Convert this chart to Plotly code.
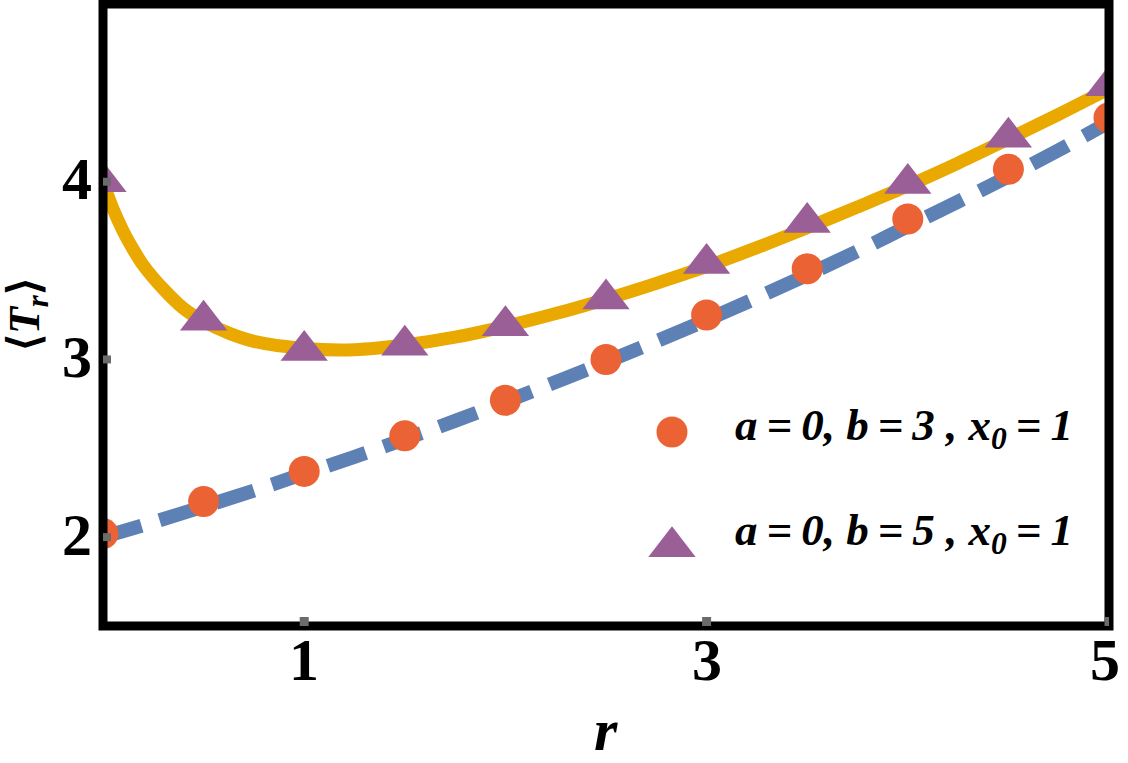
import plotly.graph_objects as go

# ---- data ----
r_points = [0, 0.5, 1, 1.5, 2, 2.5, 3, 3.5, 4, 4.5, 5]
t_b3_points = [2.02, 2.20, 2.37, 2.57, 2.77, 3.00, 3.25, 3.51, 3.79, 4.07, 4.36]
t_b5_points = [4.00, 3.22, 3.05, 3.08, 3.19, 3.34, 3.54, 3.77, 3.99, 4.25, 4.54]

r_line_b3 = [0, 0.25, 0.5, 0.75, 1, 1.25, 1.5, 1.75, 2, 2.25, 2.5, 2.75, 3,
             3.25, 3.5, 3.75, 4, 4.25, 4.5, 4.75, 5]
t_line_b3 = [2.000, 2.084, 2.172, 2.262, 2.357, 2.452, 2.552, 2.654, 2.762, 2.873,
             2.985, 3.102, 3.222, 3.347, 3.476, 3.609, 3.749, 3.888, 4.030, 4.178, 4.335]

r_line_b5 = [0, 0.025, 0.05, 0.1, 0.15, 0.2, 0.3, 0.4, 0.5, 0.625, 0.75, 1,
             1.25, 1.5, 1.75, 2, 2.25, 2.5, 2.75, 3, 3.25, 3.5, 3.75, 4, 4.25,
             4.5, 4.75, 5]
t_line_b5 = [4.000, 3.920, 3.846, 3.722, 3.619, 3.530, 3.396, 3.287, 3.214, 3.148,
             3.102, 3.062, 3.055, 3.081, 3.125, 3.186, 3.258, 3.339, 3.428, 3.523,
             3.629, 3.741, 3.858, 3.977, 4.105, 4.241, 4.379, 4.523]

x_ticks = [1, 3, 5]
y_ticks = [2, 3, 4]
legend_labels = ["a\u2009=\u20090, b\u2009=\u20093 , x<sub>0</sub>\u2009=\u20091",
                 "a\u2009=\u20090, b\u2009=\u20095 , x<sub>0</sub>\u2009=\u20091"]

# ---- styles ----
BLUE = "#5E81B5"
YELLOW = "#E9A900"
ORANGE = "#EB6235"
PURPLE = "#9B5F97"
TICKGRAY = "#6b6b6b"
SERIF = "Liberation Serif"

fig = go.Figure()

fig.add_trace(go.Scatter(x=r_line_b3, y=t_line_b3, mode="lines",
                         line=dict(color=BLUE, width=14, dash="40px,19px", shape="spline"),
                         showlegend=False, hoverinfo="skip"))
fig.add_trace(go.Scatter(x=r_line_b5, y=t_line_b5, mode="lines",
                         line=dict(color=YELLOW, width=13, shape="spline", smoothing=0.8),
                         showlegend=False, hoverinfo="skip"))
fig.add_trace(go.Scatter(x=r_points, y=t_b3_points, mode="markers",
                         marker=dict(symbol="circle", size=31, color=ORANGE),
                         showlegend=False))
fig.add_trace(go.Scatter(x=r_points, y=t_b5_points, mode="markers",
                         marker=dict(symbol="triangle-up", size=41, color=PURPLE),
                         showlegend=False))

# legend symbols on an overlay axis in plot-fraction units
fig.add_trace(go.Scatter(x=[0.5656], y=[0.3119], mode="markers", xaxis="x2", yaxis="y2",
                         marker=dict(symbol="circle", size=31, color=ORANGE),
                         showlegend=False, hoverinfo="skip"))
fig.add_trace(go.Scatter(x=[0.5656], y=[0.1275], mode="markers", xaxis="x2", yaxis="y2",
                         marker=dict(symbol="triangle-up", size=41, color=PURPLE),
                         showlegend=False, hoverinfo="skip"))

fig.update_layout(
    width=1128, height=763,
    margin=dict(l=103, r=19, t=4, b=137, pad=0),
    paper_bgcolor="white", plot_bgcolor="white",
    xaxis=dict(range=[0, 5], tickvals=x_ticks, showticklabels=False,
               ticks="", showgrid=False, zeroline=False, showline=False),
    yaxis=dict(range=[1.5, 5.0], tickvals=y_ticks, showticklabels=False,
               ticks="", showgrid=False, zeroline=False, showline=False),
    xaxis2=dict(range=[0, 1], overlaying="x", visible=False),
    yaxis2=dict(range=[0, 1], overlaying="y", visible=False),
    showlegend=False,
)

shapes = [dict(type="rect", xref="paper", yref="paper", x0=0, x1=1, y0=0, y1=1,
               line=dict(color="black", width=9), fillcolor="rgba(0,0,0,0)", layer="above")]
for v in x_ticks:
    shapes.append(dict(type="rect", xref="x", yref="paper", xsizemode="pixel", ysizemode="pixel",
                       xanchor=v, yanchor=0, x0=-4.5, x1=4.5, y0=0, y1=9,
                       line=dict(width=0), fillcolor=TICKGRAY, layer="above"))
for v in y_ticks:
    shapes.append(dict(type="rect", xref="paper", yref="y", xsizemode="pixel", ysizemode="pixel",
                       xanchor=0, yanchor=v, x0=0, x1=8, y0=-4, y1=4,
                       line=dict(width=0), fillcolor=TICKGRAY, layer="above"))
fig.update_layout(shapes=shapes)

tickfont = dict(family=SERIF, size=60, color="black")
annotations = []
for v in x_ticks:
    annotations.append(dict(text="<b>%d</b>" % v, xref="x", yref="paper", x=v, y=-0.0547,
                            xanchor="center", yanchor="middle", showarrow=False,
                            xshift=-4 if v == x_ticks[-1] else 0, font=tickfont))
for v in y_ticks:
    annotations.append(dict(text="<b>%d</b>" % v, xref="paper", yref="y", x=-0.0085, y=v,
                            xanchor="right", yanchor="middle", showarrow=False,
                            yshift=2.5, font=tickfont))

annotations += [
    dict(text="<b><i>r</i></b>", xref="paper", yref="paper", x=0.5, y=-0.167,
         xanchor="center", yanchor="middle", showarrow=False,
         font=dict(family=SERIF, size=60, color="black")),
    dict(text="<b>⟨<i>T</i><sub><i>r</i></sub>⟩</b>", xref="paper", yref="paper",
         x=-0.0755, y=0.5, xanchor="center", yanchor="middle", textangle=-90, showarrow=False,
         font=dict(family=SERIF, size=44, color="black")),
    dict(text="<b><i>" + legend_labels[0] + "</i></b>", xref="paper", yref="paper",
         x=0.6262, y=0.3183, xanchor="left", yanchor="middle", showarrow=False,
         font=dict(family=SERIF, size=45, color="black")),
    dict(text="<b><i>" + legend_labels[1] + "</i></b>", xref="paper", yref="paper",
         x=0.6262, y=0.1495, xanchor="left", yanchor="middle", showarrow=False,
         font=dict(family=SERIF, size=45, color="black")),
]
fig.update_layout(annotations=annotations)

fig.write_html("out.html")
